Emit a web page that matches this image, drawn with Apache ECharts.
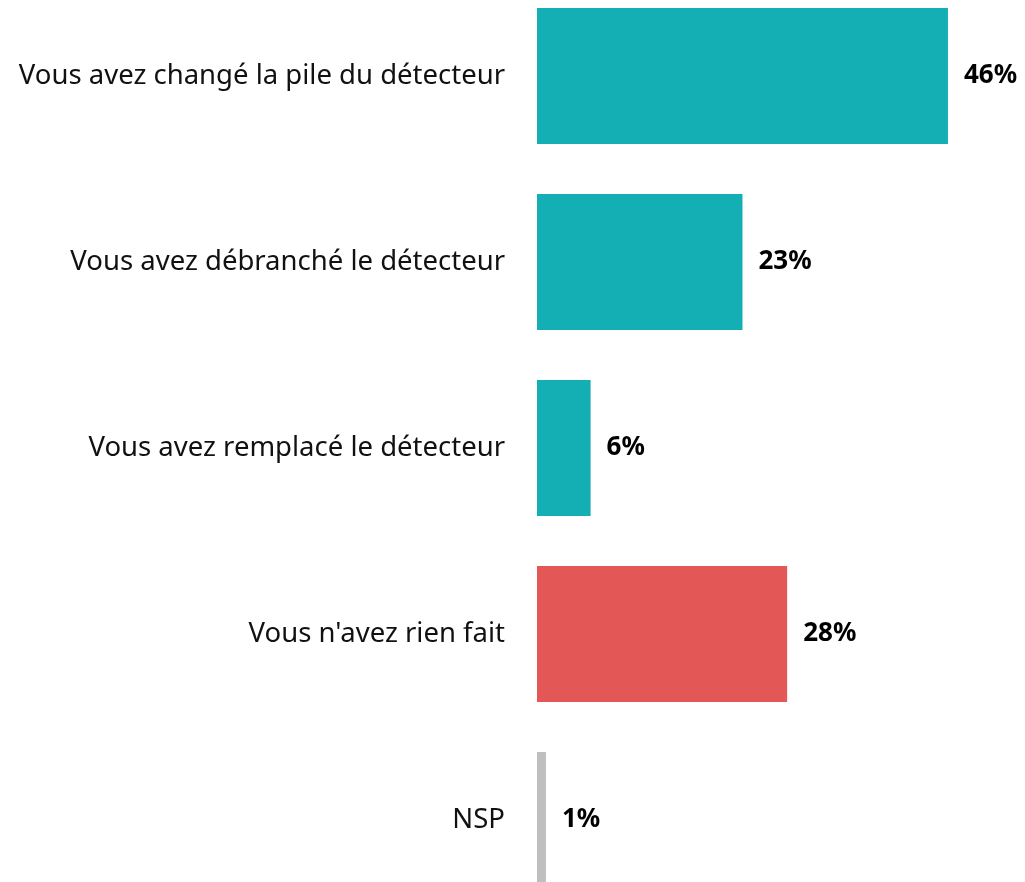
<!DOCTYPE html>
<html>
	<head>
		<meta charset="UTF-8">
		<title></title>
		<script src="https://cdn.jsdelivr.net/npm/echarts@6/dist/echarts.min.js"></script>
		<style type="text/css">
			html, body{
				margin: 0;
				padding: 0;
				background: #fff;
			}
			#chart{
				width: 1025px;
				height: 882px;
			}
		</style>
	</head>
	<body>
		<div id="chart"></div>
		<script>
		var categories = ['Vous avez changé la pile du détecteur', 'Vous avez débranché le détecteur', 'Vous avez remplacé le détecteur', "Vous n'avez rien fait", 'NSP'];
		var values = [46, 23, 6, 28, 1];
		var colors = ['#14AFB5', '#14AFB5', '#14AFB5', '#E35757', '#BFBFBF'];

		var myChart = echarts.init(document.getElementById('chart'));
		var data = [];
		for (var i = 0; i < values.length; i++) {
			data.push({value: values[i], itemStyle: {color: colors[i]}});
		}
		var option = {
			animation: false,
			grid: {
				left: 537,
				top: -17,
				width: 446.7,
				height: 930,
				outerBoundsMode: 'none'
			},
			xAxis: {
				type: 'value',
				min: 0,
				max: 50,
				show: false
			},
			yAxis: {
				type: 'category',
				inverse: true,
				data: categories,
				axisLine: {show: false},
				axisTick: {show: false},
				axisLabel: {
					margin: 32,
					fontSize: 27.5,
					color: '#111',
					fontFamily: 'Noto Sans'
				}
			},
			series: [
				{
					type: 'bar',
					barWidth: 136,
					data: data,
					label: {
						show: true,
						position: 'right',
						distance: 16,
						formatter: '{c}%',
						fontSize: 26,
						fontWeight: 'bold',
						color: '#000',
						fontFamily: 'Noto Sans'
					}
				}
			]
		};
		myChart.setOption(option);
		</script>
	</body>
</html>
